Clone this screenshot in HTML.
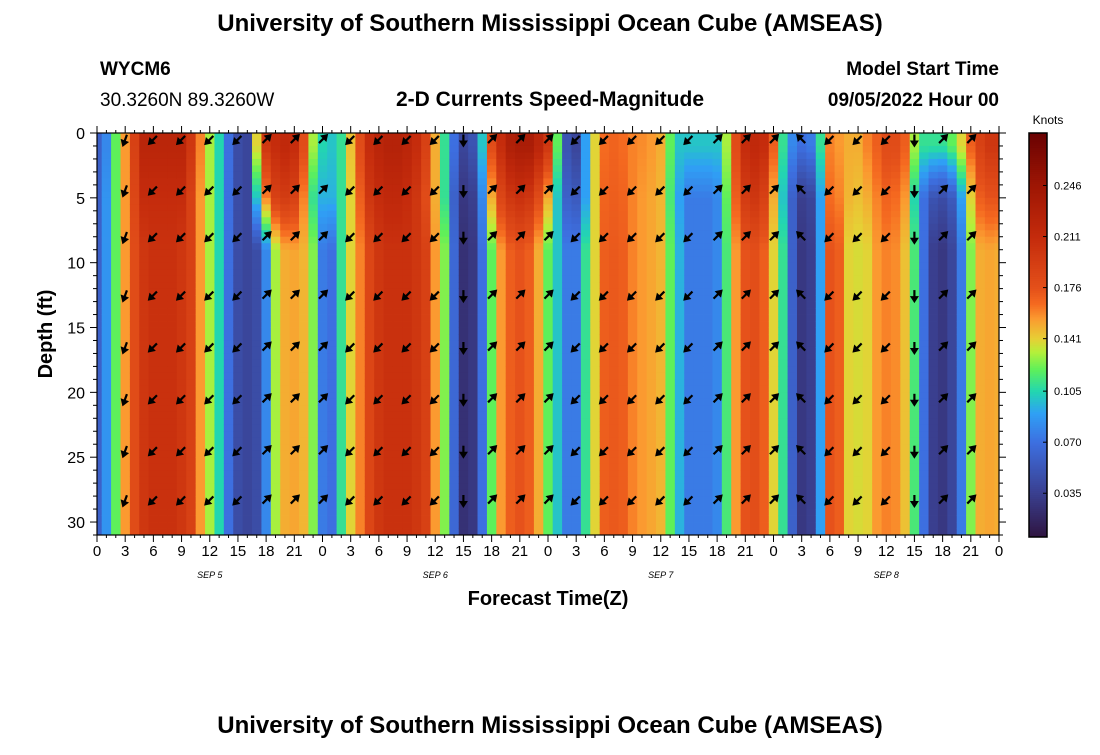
<!DOCTYPE html>
<html><head><meta charset="utf-8"><style>
body{margin:0;background:#fff;}
svg text{font-family:"Liberation Sans",sans-serif;}
</style></head><body>
<svg id="chart" width="1100" height="750" xmlns="http://www.w3.org/2000/svg">
<text x="550" y="31" text-anchor="middle" font-size="24" font-weight="bold">University of Southern Mississippi Ocean Cube (AMSEAS)</text>
<text x="100" y="75" font-size="19" font-weight="bold">WYCM6</text>
<text x="100" y="106" font-size="19">30.3260N  89.3260W</text>
<text x="550" y="106" text-anchor="middle" font-size="21" font-weight="bold">2-D Currents Speed-Magnitude</text>
<text x="999" y="75" text-anchor="end" font-size="19" font-weight="bold">Model Start Time</text>
<text x="999" y="106" text-anchor="end" font-size="19" font-weight="bold">09/05/2022 Hour 00</text>
<g id="cells"></g>
<g id="arrows"></g>
<rect x="97" y="133" width="902" height="402" fill="none" stroke="#000" stroke-width="1.2"/>
<g id="axes"></g>
<text transform="translate(52,334) rotate(-90)" text-anchor="middle" font-size="20" font-weight="bold">Depth (ft)</text>
<text x="548" y="605" text-anchor="middle" font-size="20" font-weight="bold">Forecast Time(Z)</text>
<text x="1048" y="124" text-anchor="middle" font-size="12">Knots</text>
<g id="cbar"></g>
<text x="550" y="733" text-anchor="middle" font-size="24" font-weight="bold">University of Southern Mississippi Ocean Cube (AMSEAS)</text>
</svg>
<script>
const deepSpeed=[0.06,0.085,0.12,0.155,0.18,0.2,0.205,0.205,0.205,0.2,0.19,0.155,0.13,0.105,0.07,0.045,0.04,0.045,0.08,0.13,0.15,0.152,0.148,0.125,
0.075,0.07,0.11,0.14,0.16,0.185,0.2,0.205,0.205,0.205,0.2,0.19,0.155,0.125,0.065,0.025,0.03,0.07,0.12,0.155,0.17,0.175,0.17,0.15,
0.12,0.1,0.075,0.075,0.11,0.14,0.17,0.172,0.17,0.16,0.155,0.152,0.148,0.12,0.095,0.075,0.075,0.075,0.08,0.115,0.155,0.175,0.178,0.17,
0.14,0.11,0.06,0.03,0.035,0.09,0.175,0.17,0.14,0.138,0.14,0.155,0.16,0.158,0.145,0.115,0.07,0.035,0.03,0.04,0.075,0.125,0.15,0.152,0.15];
const midSpeed=[0.06,0.085,0.12,0.155,0.185,0.21,0.21,0.21,0.21,0.21,0.19,0.155,0.13,0.105,0.07,0.045,0.04,0.1,0.16,0.19,0.195,0.19,0.16,0.11,
0.095,0.095,0.11,0.14,0.17,0.2,0.21,0.215,0.215,0.21,0.2,0.18,0.15,0.11,0.06,0.03,0.035,0.08,0.15,0.185,0.2,0.205,0.2,0.18,
0.15,0.1,0.06,0.055,0.09,0.14,0.168,0.17,0.168,0.16,0.155,0.152,0.148,0.115,0.09,0.075,0.075,0.075,0.08,0.12,0.17,0.195,0.2,0.19,
0.15,0.1,0.06,0.035,0.04,0.09,0.165,0.16,0.148,0.145,0.15,0.16,0.168,0.165,0.155,0.105,0.07,0.05,0.045,0.055,0.09,0.14,0.17,0.175,0.175];
const surfSpeed=[0.06,0.08,0.12,0.155,0.19,0.22,0.22,0.22,0.22,0.22,0.2,0.16,0.13,0.105,0.07,0.045,0.04,0.14,0.2,0.21,0.215,0.21,0.18,0.13,
0.105,0.1,0.11,0.145,0.18,0.21,0.22,0.225,0.225,0.22,0.21,0.19,0.15,0.11,0.07,0.04,0.05,0.1,0.18,0.21,0.23,0.235,0.235,0.22,
0.2,0.12,0.05,0.04,0.09,0.14,0.165,0.168,0.165,0.16,0.158,0.155,0.15,0.12,0.1,0.1,0.1,0.1,0.1,0.13,0.18,0.21,0.215,0.21,
0.17,0.11,0.08,0.07,0.075,0.11,0.16,0.155,0.15,0.15,0.16,0.17,0.18,0.18,0.17,0.13,0.11,0.11,0.11,0.12,0.14,0.17,0.19,0.2,0.2];
const arrowHours=[3,6,9,12,15,18,21,24,27,30,33,36,39,42,45,48,51,54,57,60,63,66,69,72,75,78,81,84,87,90,93];
const arrowDirDeg=[250,225,225,225,225,45,45,45,225,225,225,225,270,45,45,45,225,225,225,225,225,45,45,45,135,225,225,225,270,45,45];
const arrowDepths=[0.5,4.4,8,12.5,16.5,20.5,24.5,28.3];
const yTicks=[0,5,10,15,20,25,30];
const xTickLabels=["0","3","6","9","12","15","18","21"];
const dayLabels=["SEP 5","SEP 6","SEP 7","SEP 8"];
const cbTicks=[0.035,0.070,0.105,0.141,0.176,0.211,0.246];
const vMin=0.005,vMax=0.282;
const X0=97,X1=999,Y0=133,Y1=535,HMAX=96,DMAX=31;
const xs=h=>X0+(X1-X0)*h/HMAX, ys=d=>Y0+(Y1-Y0)*d/DMAX;
const stops=[[0.005,"#2f1440"],[0.035,"#3a3f8f"],[0.070,"#3d6fe0"],[0.09,"#2fa0f5"],[0.105,"#22d6b0"],[0.12,"#5ef05a"],[0.132,"#b5f03a"],[0.141,"#e6d035"],[0.155,"#fb9a30"],[0.165,"#f56a20"],[0.176,"#e4501a"],[0.211,"#c42b0c"],[0.246,"#9e1604"],[0.282,"#6a0202"]];
function hex(c){return [1,3,5].map(i=>parseInt(c.substr(i,2),16));}
function cmap(v){let t=Math.max(stops[0][0],Math.min(stops[stops.length-1][0],v));
for(let i=1;i<stops.length;i++){if(t<=stops[i][0]){const a=hex(stops[i-1][1]),b=hex(stops[i][1]);const f=(t-stops[i-1][0])/(stops[i][0]-stops[i-1][0]);return `rgb(${a.map((x,k)=>Math.round(x+(b[k]-x)*f)).join(',')})`;}}return stops[stops.length-1][1];}
const NS="http://www.w3.org/2000/svg";
function mk(tag,attrs,parent){const e=document.createElementNS(NS,tag);for(const k in attrs)e.setAttribute(k,attrs[k]);parent.appendChild(e);return e;}
function speedAt(h,dm){
 if(dm<=1)return surfSpeed[h];
 if(dm<=5){const f=(dm-1)/4;return surfSpeed[h]*(1-f)+midSpeed[h]*f;}
 if(dm<=9){const f=(dm-5)/4;return midSpeed[h]*(1-f)+deepSpeed[h]*f;}
 return deepSpeed[h];
}
const cells=document.getElementById('cells');
const dStep=0.5;
for(let h=0;h<deepSpeed.length;h++){
 const xa=xs(h-0.5),xb=xs(h+0.5);const cx0=Math.max(X0,xa),cx1=Math.min(X1,xb);
 for(let d=0;d<DMAX;d+=dStep){
  const v=speedAt(h,d+dStep/2);
  const r=mk('rect',{x:cx0.toFixed(2),y:ys(d).toFixed(2),width:(cx1-cx0+0.4).toFixed(2),height:(ys(d+dStep)-ys(d)+0.4).toFixed(2),fill:cmap(v)},cells);
  
  
 }
}
const arrows=document.getElementById('arrows');
arrowHours.forEach((h,i)=>{arrowDepths.forEach(d=>{
 const g=mk('g',{transform:`translate(${xs(h).toFixed(1)},${ys(d).toFixed(1)}) rotate(${-arrowDirDeg[i]})`},arrows);
 
 
 mk('line',{x1:-5,y1:0,x2:5,y2:0,stroke:'#000','stroke-width':2.2},g);
 mk('path',{d:'M8,0 L1,-4.5 L1,4.5 Z',fill:'#000'},g);
});});
const axes=document.getElementById('axes');
for(let d=0;d<=DMAX;d++){const L=d%5==0?7:4;
 mk('line',{x1:X0-L,y1:ys(d),x2:X0,y2:ys(d),stroke:'#000'},axes);
 mk('line',{x1:X1,y1:ys(d),x2:X1+L,y2:ys(d),stroke:'#000'},axes);}
yTicks.forEach(d=>{const t=mk('text',{x:X0-12,y:ys(d)+6,'text-anchor':'end','font-size':16},axes);t.textContent=d;
 
 });
for(let h=0;h<=HMAX;h++){const L=h%3==0?7:3;
 mk('line',{x1:xs(h),y1:Y1,x2:xs(h),y2:Y1+L,stroke:'#000'},axes);
 mk('line',{x1:xs(h),y1:Y0-L,x2:xs(h),y2:Y0,stroke:'#000'},axes);}
for(let h=0;h<=HMAX;h+=3){const t=mk('text',{x:xs(h),y:Y1+21,'text-anchor':'middle','font-size':15},axes);t.textContent=xTickLabels[(h%24)/3];
 
 }
dayLabels.forEach((s,i)=>{const t=mk('text',{x:xs(i*24+12),y:Y1+43,'text-anchor':'middle','font-size':9,'font-style':'italic','font-family':'Liberation Serif, serif'},axes);t.textContent=s;
 
 });
const cb=document.getElementById('cbar');const CB0=133,CB1=537,CX=1029,CW=18;
const cby=v=>CB1-(CB1-CB0)*(v-vMin)/(vMax-vMin);
for(let i=0;i<200;i++){const v0=vMin+(vMax-vMin)*i/200,v1=vMin+(vMax-vMin)*(i+1)/200;
 mk('rect',{x:CX,y:cby(v1),width:CW,height:cby(v0)-cby(v1)+0.5,fill:cmap((v0+v1)/2)},cb);}
mk('rect',{x:CX,y:CB0,width:CW,height:CB1-CB0,fill:'none',stroke:'#000','stroke-width':1.5},cb);
cbTicks.forEach(v=>{mk('line',{x1:CX+CW-4,y1:cby(v),x2:CX+CW,y2:cby(v),stroke:'#000'},cb);
 const t=mk('text',{x:CX+CW+7,y:cby(v)+4,'font-size':11},cb);t.textContent=v.toFixed(3);
 
 });
</script>
</body></html>
